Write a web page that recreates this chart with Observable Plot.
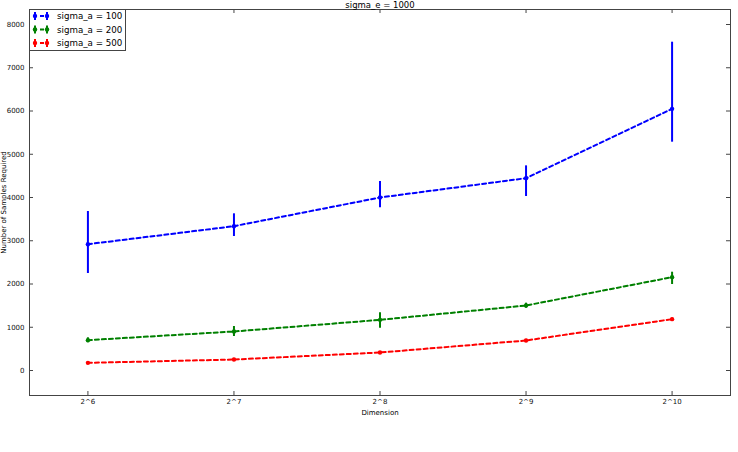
<!DOCTYPE html>
<html>
<head>
<meta charset="utf-8">
<script src="https://cdn.jsdelivr.net/npm/d3@7"></script>
<script src="https://cdn.jsdelivr.net/npm/@observablehq/plot@0.6"></script>
<style>
  html, body { margin: 0; padding: 0; background: #fff; }
  #wrap { position: relative; width: 738px; height: 452px; font-family: "DejaVu Sans", sans-serif; }
  #legend { position: absolute; left: 29px; top: 9px; }
</style>
</head>
<body>
<div id="wrap"><div id="chart"></div><div id="legend"></div></div>
<script>
// ---- data ----
const dims = [6, 7, 8, 9, 10];
const dimLabels = ["2^6", "2^7", "2^8", "2^9", "2^10"];
const yTicks = [0, 1000, 2000, 3000, 4000, 5000, 6000, 7000, 8000];
const seriesNames = ["sigma_a = 100", "sigma_a = 200", "sigma_a = 500"];
const seriesColors = ["#0000ff", "#008000", "#ff0000"];

const mean100 = [2920, 3337, 4000, 4447, 6050];
const lo100   = [2243, 3098, 3762, 4023, 5279];
const hi100   = [3676, 3623, 4370, 4732, 7591];

const mean200 = [701, 902, 1171, 1503, 2158];
const lo200   = [645, 786, 979, 1441, 1988];
const hi200   = [757, 1017, 1334, 1557, 2273];

const mean500 = [177, 254, 416, 694, 1187];
const lo500   = [152, 229, 391, 669, 1162];
const hi500   = [202, 279, 441, 719, 1212];

const titleText = "sigma_e = 1000";
const xLabel = "Dimension";
const yLabel = "Number of Samples Required";

// ---- table ----
const means = [mean100, mean200, mean500];
const los = [lo100, lo200, lo500];
const his = [hi100, hi200, hi500];
const rows = [];
seriesNames.forEach((s, i) => {
  dims.forEach((d, j) => rows.push({series: s, dim: d, mean: means[i][j], lo: los[i][j], hi: his[i][j]}));
});

const W = 738, H = 452, mL = 29, mR = 8, mT = 9, mB = 57;
const fw = W - mL - mR, fh = H - mT - mB;
const color = {domain: seriesNames, range: seriesColors};

const chart = Plot.plot({
  width: W, height: H,
  marginLeft: mL, marginRight: mR, marginTop: mT, marginBottom: mB,
  style: {fontFamily: "DejaVu Sans, sans-serif", background: "#fff", overflow: "visible"},
  x: {type: "linear", domain: [5.6, 10.4], axis: null},
  y: {domain: [-578, 8347], axis: null},
  color: color,
  marks: [
    Plot.line(rows, {x: "dim", y: "mean", z: "series", stroke: "series", strokeWidth: 2, strokeDasharray: "4,3"}),
    Plot.ruleX(rows, {x: "dim", y1: "lo", y2: "hi", stroke: "series", strokeWidth: 2}),
    Plot.dot(rows, {x: "dim", y: "mean", fill: "series", r: 2.2}),
    Plot.frame({stroke: "#444", strokeWidth: 1}),
    // inward ticks on all four sides
    Plot.tickY(yTicks, {y: d => d, stroke: "#444", insetRight: fw - 4}),
    Plot.tickY(yTicks, {y: d => d, stroke: "#444", insetLeft: fw - 4}),
    Plot.tickX(dims, {x: d => d, stroke: "#444", insetTop: fh - 4}),
    Plot.tickX(dims, {x: d => d, stroke: "#444", insetBottom: fh - 4}),
    Plot.axisY(yTicks, {tickSize: 0, tickPadding: 5, fontSize: 7, fill: "#111", label: null,
      tickFormat: d => String(d)}),
    Plot.axisX(dims, {tickSize: 0, tickPadding: 4, fontSize: 7, fill: "#111", label: null,
      tickFormat: d => dimLabels[dims.indexOf(d)]}),
    Plot.text([titleText], {text: d => d, frameAnchor: "top", lineAnchor: "bottom", dy: -2, fontSize: 8.5, fill: "#000"}),
    Plot.text([xLabel], {text: d => d, frameAnchor: "bottom", lineAnchor: "middle", dy: 17, fontSize: 7, fill: "#000"}),
    Plot.text([yLabel], {text: d => d, frameAnchor: "left", rotate: -90, textAnchor: "middle", lineAnchor: "middle", dx: -25.5, fontSize: 7, fill: "#000"})
  ]
});
document.getElementById("chart").appendChild(chart);

// ---- legend ----
const lw = 97, lh = 42;
const lg = d3.select("#legend").append("svg").attr("width", lw).attr("height", lh)
  .style("font-family", "DejaVu Sans, sans-serif").style("display", "block");
lg.append("rect").attr("x", 0.5).attr("y", 0.5).attr("width", lw - 1).attr("height", lh - 1)
  .attr("fill", "#fff").attr("stroke", "#444");
seriesNames.forEach((s, i) => {
  const cy = 7 + i * 13.5;
  const g = lg.append("g").attr("transform", `translate(0,${cy})`);
  g.append("line").attr("x1", 4).attr("x2", 20).attr("y1", 0).attr("y2", 0)
    .attr("stroke", seriesColors[i]).attr("stroke-width", 2).attr("stroke-dasharray", "4,3");
  [6, 18].forEach(mx => {
    g.append("line").attr("x1", mx).attr("x2", mx).attr("y1", -4).attr("y2", 4)
      .attr("stroke", seriesColors[i]).attr("stroke-width", 2);
    g.append("circle").attr("cx", mx).attr("cy", 0).attr("r", 2.2).attr("fill", seriesColors[i]);
  });
  g.append("text").attr("x", 28).attr("y", 0).attr("dy", "0.35em").attr("font-size", 8.7)
    .attr("fill", "#000").text(s);
});
</script>
</body>
</html>
